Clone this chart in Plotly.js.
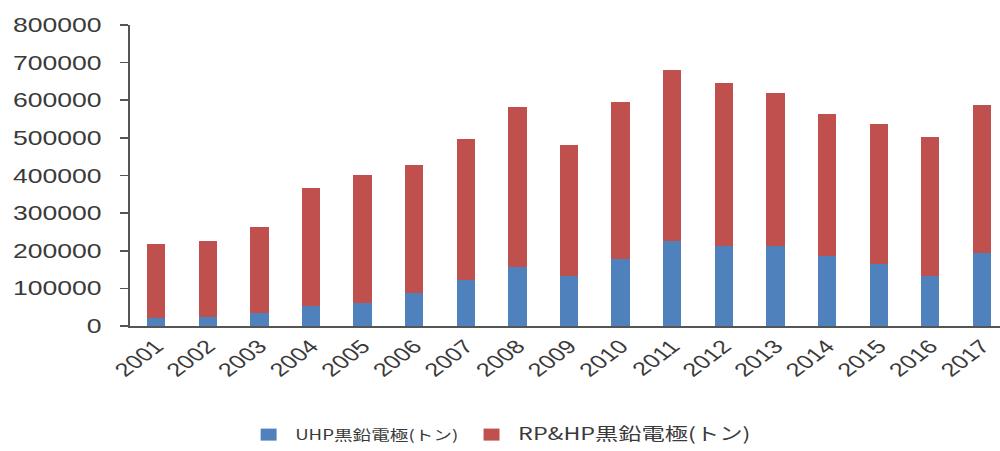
<!DOCTYPE html>
<html>
<head>
<meta charset="utf-8">
<script src="https://cdn.plot.ly/plotly-3.0.1.min.js"></script>
<style>
  html, body { margin: 0; padding: 0; background: #fff; overflow: hidden; }
  #wrap { width: 1000px; height: 451px; overflow: hidden; }
  /* the chart is laid out narrower and widened horizontally */
  #chart { width: 752px; height: 451px; transform: scaleX(1.3298); transform-origin: 0 0; }
</style>
</head>
<body>
<div id="wrap"><div id="chart"></div></div>
<script>
// Graphite electrode output by year (tonnes)
const years = ['2001','2002','2003','2004','2005','2006','2007','2008','2009',
               '2010','2011','2012','2013','2014','2015','2016','2017'];

// UHP graphite electrodes
const uhp = [20000, 25000, 34000, 53000, 62000, 89000, 122000, 158000, 133000,
             177000, 227000, 213000, 213000, 186000, 165000, 133000, 193000];

// RP & HP graphite electrodes (stacked on top of UHP)
const rphp = [197000, 202000, 230000, 313000, 340000, 340000, 374000, 425000, 347000,
              418000, 454000, 434000, 406000, 378000, 372000, 369000, 395000];

const yTicks = [0, 100000, 200000, 300000, 400000, 500000, 600000, 700000, 800000];

const uhpName = '<span style="font-size:14px">UHP黒鉛電極(トン)</span>';
const rphpName = '<span style="font-size:17.5px">RP&amp;HP黒鉛電極(トン)</span>';

const traces = [
  {
    type: 'bar', x: years, y: uhp, name: uhpName,
    marker: { color: '#4F81BD' }
  },
  {
    type: 'bar', x: years, y: rphp, name: rphpName,
    marker: { color: '#C0504D' }
  }
];

const W = 752;

const layout = {
  width: W, height: 451,
  margin: { l: 98, r: 0, t: 25, b: 125 },
  paper_bgcolor: '#ffffff', plot_bgcolor: '#ffffff',
  barmode: 'stack',
  bargap: 0.645,
  font: { family: 'Liberation Sans, Arial, sans-serif', color: '#3a3a3a' },
  xaxis: {
    type: 'category',
    range: [-0.5, 16.35],
    tickangle: -45,
    tickfont: { size: 19, color: '#3a3a3a' },
    showline: true, linecolor: '#555555', linewidth: 1.8,
    ticks: '', showgrid: false, zeroline: false
  },
  yaxis: {
    range: [0, 800000],
    tickvals: yTicks,
    ticktext: yTicks.map(String),
    tickfont: { size: 20, color: '#3a3a3a' },
    showline: true, linecolor: '#555555', linewidth: 1.6,
    ticks: 'outside', ticklen: 6, tickcolor: '#555555', tickwidth: 1.6,
    ticklabelstandoff: 10,
    showgrid: false, zeroline: false
  },
  showlegend: true,
  legend: {
    orientation: 'h',
    xref: 'container', yref: 'container',
    x: 182 / W, xanchor: 'left',
    y: 1 - 435 / 451, yanchor: 'middle',
    font: { family: 'Noto Sans CJK JP, Liberation Sans, sans-serif', size: 14, color: '#3a3a3a' },
    itemwidth: 30,
    traceorder: 'normal'
  }
};

Plotly.newPlot('chart', traces, layout, { staticPlot: true, displayModeBar: false });
</script>
</body>
</html>
